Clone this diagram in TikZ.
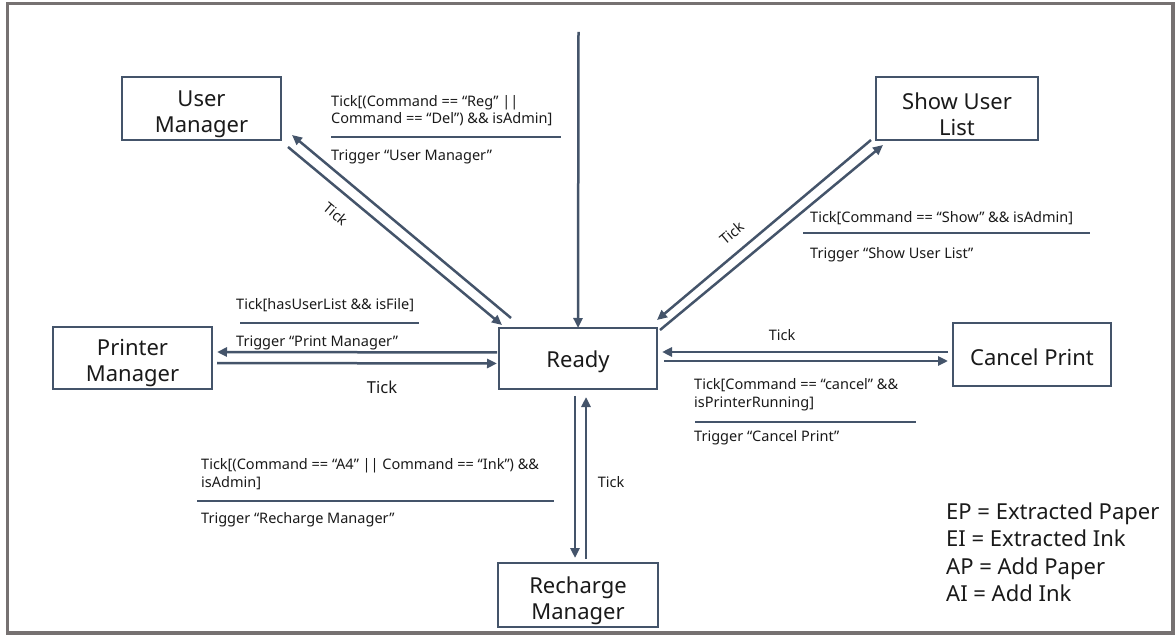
\documentclass[tikz,border=0pt]{standalone}
\usepackage{fontspec}
\setmainfont{Noto Sans}
\usetikzlibrary{arrows.meta}
\definecolor{boxblue}{HTML}{44546A}
\definecolor{framegray}{HTML}{767171}
\definecolor{txt}{HTML}{1A1A1A}
\tikzset{
  state/.style={draw=boxblue, line width=2.6pt, fill=white, minimum width=159pt, minimum height=63pt,
    inner sep=0pt, outer sep=0pt},
  boxtext/.style={inner sep=0pt, align=center, text=txt, font=\fontsize{22}{26}\selectfont},
  arr/.style={draw=boxblue, line width=2.5pt, -{Triangle[length=10pt,width=9pt]}},
  rule/.style={draw=boxblue, line width=2.5pt},
  small/.style={inner sep=0pt, text=txt, font=\fontsize{14.5}{17}\selectfont},
  legend/.style={inner sep=0pt, text=txt, font=\fontsize{22}{27}\selectfont},
}
\begin{document}
\begin{tikzpicture}[x=1pt,y=-1pt]
\useasboundingbox (0,0) rectangle (1176,636);
\draw[framegray, line width=3.5pt] (7.5,3.5) rectangle (1173,633);

% states
\node[state] (um) at (201.5,108.5) {};
\node[boxtext] (umt) at ([shift={(0,5.5)}]um.center) {User\\Manager};
\node[state, minimum height=62pt] (pm) at (132.5,358) {};
\node[boxtext] (pmt) at ([shift={(0,5.5)}]pm.center) {Printer\\Manager};
\node[state, minimum width=158pt, minimum height=61pt] (ready) at (578,358.5) {};
\node[boxtext] (readyt) at ([shift={(0,3)}]ready.center) {Ready};
\node[state, minimum width=162pt] (show) at (957,108.5) {};
\node[boxtext] (showt) at ([shift={(0,5.5)}]show.center) {Show User\\List};
\node[state, minimum width=158pt] (cp) at (1032,354.5) {};
\node[boxtext] (cpt) at ([shift={(0,3)}]cp.center) {Cancel Print};
\node[state, minimum width=160pt, minimum height=64pt] (rm) at (578,595) {};
\node[boxtext] (rmt) at ([shift={(0,5.5)}]rm.center) {Recharge\\Manager};

% initial transition
\coordinate (init) at (578.5,32);
\draw[arr] (init) -- (ready.north);

% Ready <-> User Manager
\draw[arr] ([shift={(12,-10)}]ready.north west) -- ([shift={(11,-5)}]um.south east);
\draw[arr] ([shift={(7,7)}]um.south east) -- ([shift={(3,-3)}]ready.north west);
\node[small, rotate=-40] (tickum) at (336,214) {Tick};

% Ready <-> Show User List
\draw[arr] ([shift={(3,2)}]ready.north east) -- ([shift={(7,5)}]show.south west);
\draw[arr] ([shift={(-5,0)}]show.south west) -- ([shift={(0,-8)}]ready.north east);
\node[small, rotate=40] (tickshow) at (732,233) {Tick};

% Ready <-> Printer Manager
\draw[arr] ([shift={(-2,-6)}]ready.west) -- ([shift={(5,-6)}]pm.east);
\draw[arr] ([shift={(5,5)}]pm.east) -- ([shift={(-2,5)}]ready.west);
\node[small, font=\fontsize{16.5}{20}\selectfont] (tickpm) at (382,387) {Tick};

% Ready <-> Cancel Print
\draw[arr] ([shift={(-5,-2.5)}]cp.west) -- ([shift={(5,-6.5)}]ready.east);
\draw[arr] ([shift={(7,2.5)}]ready.east) -- ([shift={(-5,6.5)}]cp.west);
\node[small] (tickcp) at (782,335) {Tick};

% Ready <-> Recharge Manager
\draw[arr] ([shift={(-3,7)}]ready.south) -- ([shift={(-3,-5)}]rm.north);
\draw[arr] ([shift={(8,-4)}]rm.north) -- ([shift={(8,8)}]ready.south);
\node[small] (tickrm) at (611,482) {Tick};

% guard / trigger labels: User Manager
\node[small, anchor=base west] (g1a) at (331,107) {Tick[(Command == “Reg” ||};
\node[small, anchor=base west] (g1b) at (331,124) {Command == “Del”) \&\& isAdmin]};
\draw[rule] (331,137) -- (561,137);
\node[small, anchor=base west] (t1) at (331,161) {Trigger “User Manager”};

% Printer Manager
\node[small, anchor=base west] (g2) at (236,310) {Tick[hasUserList \&\& isFile]};
\draw[rule] (240,323) -- (419,323);
\node[small, anchor=base west] (t2) at (236,347) {Trigger “Print Manager”};

% Show User List
\node[small, anchor=base west] (g3) at (810,223) {Tick[Command == “Show” \&\& isAdmin]};
\draw[rule] (803,233) -- (1090,233);
\node[small, anchor=base west] (t3) at (810,259) {Trigger “Show User List”};

% Cancel Print
\node[small, anchor=base west] (g4a) at (694,389) {Tick[Command == “cancel” \&\&};
\node[small, anchor=base west] (g4b) at (694,407) {isPrinterRunning]};
\draw[rule] (695,422) -- (916,422);
\node[small, anchor=base west] (t4) at (694,442) {Trigger “Cancel Print”};

% Recharge Manager
\node[small, anchor=base west] (g5a) at (201,469) {Tick[(Command == “A4” || Command == “Ink”) \&\&};
\node[small, anchor=base west] (g5b) at (201,487) {isAdmin]};
\draw[rule] (197,501) -- (554,501);
\node[small, anchor=base west] (t5) at (201,523) {Trigger “Recharge Manager”};

% legend
\node[legend, anchor=base west] (l1) at (946,519) {EP = Extracted Paper};
\node[legend, anchor=base west] (l2) at (946,546) {EI = Extracted Ink};
\node[legend, anchor=base west] (l3) at (946,574) {AP = Add Paper};
\node[legend, anchor=base west] (l4) at (946,601) {AI = Add Ink};
\end{tikzpicture}
\end{document}
